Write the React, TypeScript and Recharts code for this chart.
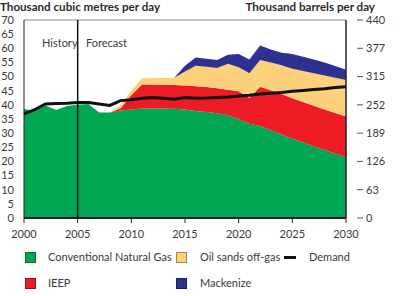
import React from 'react';
import { ComposedChart, Area, Line, XAxis, YAxis, ReferenceLine } from 'recharts';

const years = [2000, 2001, 2002, 2003, 2004, 2005, 2006, 2007, 2008, 2009, 2010, 2011, 2012, 2013, 2014, 2015, 2016, 2017, 2018, 2019, 2020, 2021, 2022, 2023, 2024, 2025, 2026, 2027, 2028, 2029, 2030];

const conventional = [38.5, 37.8, 39.8, 38.2, 39.6, 40.0, 40.3, 37.3, 37.3, 38.0, 38.4, 38.7, 38.8, 38.7, 38.6, 38.4, 37.8, 37.5, 37.0, 36.3, 35.0, 33.3, 32.5, 31.0, 29.5, 28.0, 26.8, 25.3, 24.0, 22.8, 21.6];

const ieep = [null, null, null, null, null, null, null, null, 0, 0.8, 5.1, 8.5, 8.4, 8.4, 8.4, 8.4, 8.8, 8.8, 8.9, 9.0, 9.8, 9.1, 13.9, 14.2, 14.3, 14.3, 14.2, 14.4, 14.4, 14.3, 14.3];

const oilSands = [null, null, null, null, null, null, null, null, 0, 1.2, 1.5, 2.2, 2.3, 2.4, 2.6, 5.0, 7.2, 7.2, 7.1, 9.2, 8.5, 8.8, 9.5, 9.8, 10.2, 10.5, 11.0, 11.5, 12.0, 12.5, 12.9];

const mackenzie = [null, null, null, null, null, null, null, null, null, null, null, null, null, null, 0, 2.0, 2.9, 2.8, 2.9, 3.2, 4.7, 4.8, 5.1, 4.6, 4.4, 5.2, 5.0, 4.8, 4.6, 4.1, 3.6];

const demand = [36.8, 38.3, 40.3, 40.5, 40.6, 40.8, 40.8, 40.3, 39.8, 41.5, 41.8, 42.3, 42.6, 42.3, 42.0, 42.6, 42.3, 42.4, 42.6, 42.8, 43.1, 43.4, 43.8, 44.1, 44.4, 44.8, 45.1, 45.4, 45.7, 46.1, 46.4];

const yearTicks = [2000, 2005, 2010, 2015, 2020, 2025, 2030];
const leftTicks = [0, 5, 10, 15, 20, 25, 30, 35, 40, 45, 50, 55, 60, 65, 70];
const rightTicks = [0, 10, 20, 30, 40, 50, 60, 70];
const barrelLabels = ['0', '63', '126', '189', '252', '315', '377', '440'];

const data = years.map((y, i) => ({
  year: y,
  conventional: conventional[i],
  ieep: ieep[i],
  oilSands: oilSands[i],
  mackenzie: mackenzie[i],
  demand: demand[i],
}));

const FONT = 'Lato, "Noto Sans", sans-serif';
const GREEN = '#00A651';
const RED = '#ED1C24';
const ORANGE = '#FDD17C';
const BLUE = '#2E3192';
const TEXT = '#3a3a3a';

const renderRightTick = (props: any) => {
  const { x, y, payload } = props;
  const v = Number(payload && payload.value);
  const idx = rightTicks.indexOf(v);
  const label = idx >= 0 ? barrelLabels[idx] : String(v);
  return (
    <g key={`rt-${v}`}>
      <line x1={x + 3} x2={x + 9} y1={y} y2={y} stroke="#555" strokeWidth={1} />
      <text x={x + 12} y={y} dy="0.35em" fill={TEXT} fontSize={11} fontFamily={FONT} textAnchor="start">
        {label}
      </text>
    </g>
  );
};

const Swatch = ({ color, x, y }: { color: string; x: number; y: number }) => (
  <div style={{ position: 'absolute', left: x, top: y, width: 9, height: 9, background: color, border: '0.5px solid rgba(0,0,0,0.35)' }} />
);

const Label = ({ text, x, y }: { text: string; x: number; y: number }) => (
  <div style={{ position: 'absolute', left: x, top: y, fontSize: 11, lineHeight: '12px', color: TEXT, fontFamily: FONT, whiteSpace: 'nowrap' }}>{text}</div>
);

export default function App() {
  return (
    <div style={{ position: 'absolute', left: 0, top: 0, width: 400, height: 296, background: '#fff', fontFamily: FONT }}>
      <div style={{ position: 'absolute', left: 0, top: 0, fontSize: 11.6, fontWeight: 700, color: '#2a2a2a', whiteSpace: 'nowrap' }}>Thousand cubic metres per day</div>
      <div style={{ position: 'absolute', right: 25, top: 0, fontSize: 11.6, fontWeight: 700, color: '#2a2a2a', whiteSpace: 'nowrap' }}>Thousand barrels per day</div>
      <ComposedChart width={400} height={296} data={data} margin={{ top: 20, right: 0, bottom: 48, left: 0 }}>
        <XAxis
          dataKey="year"
          type="number"
          domain={[2000, 2030]}
          ticks={yearTicks}
          height={30}
          tickSize={5}
          tickMargin={7}
          axisLine={{ stroke: '#222', strokeWidth: 2 }}
          tickLine={{ stroke: '#222' }}
          tick={{ fill: TEXT, fontSize: 11, fontFamily: FONT }}
        />
        <YAxis
          yAxisId="left"
          domain={[0, 70]}
          ticks={leftTicks}
          width={24}
          tickLine={false}
          tickMargin={4}
          axisLine={{ stroke: '#222', strokeWidth: 1 }}
          tick={{ fill: TEXT, fontSize: 11, fontFamily: FONT }}
          interval={0}
        />
        <YAxis
          yAxisId="right"
          orientation="right"
          type="number"
          domain={[0, 70]}
          allowDataOverflow
          ticks={rightTicks}
          width={54}
          tickLine={false}
          axisLine={{ stroke: '#222', strokeWidth: 1.5 }}
          tick={renderRightTick}
          interval={0}
        />
        <Area yAxisId="left" type="linear" dataKey="conventional" stackId="s" fill={GREEN} fillOpacity={1} stroke="none" isAnimationActive={false} />
        <Area yAxisId="left" type="linear" dataKey="ieep" stackId="s" fill={RED} fillOpacity={1} stroke="none" isAnimationActive={false} />
        <Area yAxisId="left" type="linear" dataKey="oilSands" stackId="s" fill={ORANGE} fillOpacity={1} stroke="none" isAnimationActive={false} />
        <Area yAxisId="left" type="linear" dataKey="mackenzie" stackId="s" fill={BLUE} fillOpacity={1} stroke="none" isAnimationActive={false} />
        <Line yAxisId="right" type="linear" dataKey="demand" stroke="#111" strokeWidth={3} dot={false} isAnimationActive={false} />
        <ReferenceLine yAxisId="left" y={70} stroke="#888" strokeWidth={1} />
        <ReferenceLine yAxisId="left" x={2005} stroke="#111" strokeWidth={1.5} />
      </ComposedChart>
      <Label text="History" x={42} y={37} />
      <Label text="Forecast" x={86} y={37} />
      <Swatch color={GREEN} x={25} y={252} />
      <Label text="Conventional Natural Gas" x={48} y={251} />
      <Swatch color={ORANGE} x={176} y={252} />
      <Label text="Oil sands off-gas" x={200} y={251} />
      <div style={{ position: 'absolute', left: 284, top: 255.5, width: 12, height: 3, background: '#111' }} />
      <Label text="Demand" x={309} y={251} />
      <Swatch color={RED} x={25} y={278} />
      <Label text="IEEP" x={48} y={277} />
      <Swatch color={BLUE} x={176} y={278} />
      <Label text="Mackenize" x={200} y={277} />
    </div>
  );
}
